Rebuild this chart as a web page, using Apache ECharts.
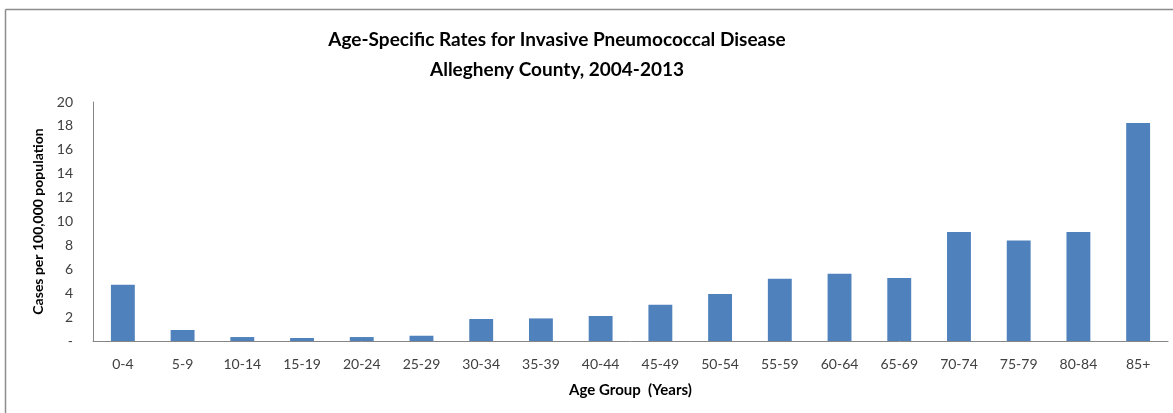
<!DOCTYPE html>
<html>
<head>
<meta charset="utf-8">
<script src="https://cdn.jsdelivr.net/npm/echarts@6/dist/echarts.min.js"></script>
<style>
html,body{margin:0;padding:0;background:#fff;}
#c{width:1173px;height:413px;}
</style>
</head>
<body>
<div id="c"></div>
<script>
const categories = ['0-4','5-9','10-14','15-19','20-24','25-29','30-34','35-39','40-44','45-49','50-54','55-59','60-64','65-69','70-74','75-79','80-84','85+'];
const rates = [4.7, 0.92, 0.33, 0.25, 0.33, 0.44, 1.84, 1.89, 2.09, 3.04, 3.93, 5.21, 5.63, 5.27, 9.12, 8.42, 9.12, 18.24];
const yTicks = [0, 2, 4, 6, 8, 10, 12, 14, 16, 18, 20];
const titleLines = ['Age-Specific Rates for Invasive Pneumococcal Disease', 'Allegheny County, 2004-2013'];

const FONT = 'Lato, "Open Sans", sans-serif';
const chart = echarts.init(document.getElementById('c'), null, {renderer:'canvas'});
chart.setOption({
  animation: false,
  backgroundColor: '#fff',
  graphic: [
    {type:'line', shape:{x1:5.5, y1:9.5, x2:1173, y2:9.5}, style:{stroke:'#8c8c8c', lineWidth:1.5}},
    {type:'line', shape:{x1:5.5, y1:9.5, x2:5.5, y2:413}, style:{stroke:'#8c8c8c', lineWidth:1.5}},
    {type:'text', x:557, y:40, style:{text:titleLines[0], font:'bold 19px ' + FONT, fill:'#000', align:'center', verticalAlign:'middle'}},
    {type:'text', x:557, y:70, style:{text:titleLines[1], font:'bold 19px ' + FONT, fill:'#000', align:'center', verticalAlign:'middle'}}
  ],
  grid: {left:93, right:5, top:102, bottom:72, containLabel:false},
  xAxis: {
    type:'category',
    data: categories,
    name: 'Age Group  (Years)',
    nameLocation: 'middle',
    nameGap: 42,
    nameTextStyle: {fontFamily: FONT, fontWeight:'bold', fontSize:15, color:'#000'},
    axisLine: {show:true, lineStyle:{color:'#868686', width:1}},
    axisTick: {show:false},
    axisLabel: {fontFamily: FONT, fontSize:14, color:'#404040', margin:16, interval:0}
  },
  yAxis: {
    type:'value',
    min: 0, max: 20, interval: 2,
    name: 'Cases per 100,000 population',
    nameLocation: 'middle',
    nameRotate: 90,
    nameGap: 47,
    nameTextStyle: {fontFamily: FONT, fontWeight:'bold', fontSize:14, color:'#000'},
    axisLine: {show:true, lineStyle:{color:'#868686', width:1}},
    axisTick: {show:false},
    splitLine: {show:false},
    axisLabel: {
      fontFamily: FONT, fontSize:14, color:'#404040', margin:20,
      formatter: v => (yTicks.indexOf(v) >= 0 ? (v === 0 ? '-' : String(v)) : '')
    }
  },
  series: [{
    type:'bar',
    data: rates,
    barWidth: '40%',
    itemStyle: {color:'#4F81BD'}
  }]
});
</script>
</body>
</html>
